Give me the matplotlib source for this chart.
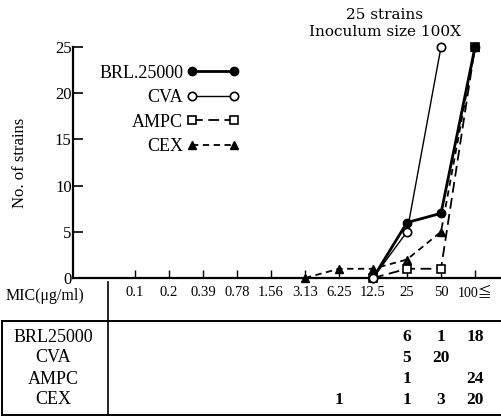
import matplotlib
matplotlib.use("Agg")
import matplotlib.pyplot as plt
from matplotlib.transforms import blended_transform_factory
from matplotlib.lines import Line2D

# ---- data ----
mic_labels = ["0.1", "0.2", "0.39", "0.78", "1.56", "3.13", "6.25", "12.5", "25", "50", "100≦"]

# cumulative number of strains as plotted
brl_x = ["12.5", "25", "50", "100≦"]
brl_y = [0, 6, 7, 25]
cva_x = ["12.5", "25", "50"]
cva_y = [0, 5, 25]
ampc_x = ["12.5", "25", "50", "100≦"]
ampc_y = [0, 1, 1, 25]
cex_x = ["3.13", "6.25", "12.5", "25", "50", "100≦"]
cex_y = [0, 1, 1, 2, 5, 25]

# table of counts per MIC
table_names = ["BRL25000", "CVA", "AMPC", "CEX"]
table_counts = [
    {"25": 6, "50": 1, "100≦": 18},
    {"25": 5, "50": 20},
    {"25": 1, "100≦": 24},
    {"6.25": 1, "25": 1, "50": 3, "100≦": 20},
]

yticks = [0, 5, 10, 15, 20, 25]

# ---- figure ----
W, H = 501, 417
fig = plt.figure(figsize=(W / 100, H / 100), dpi=100)
serif = ["Liberation Serif", "DejaVu Serif", "Noto Sans CJK JP"]
plt.rcParams["font.family"] = serif

ax_left, ax_right = 73, 501
ax_top, ax_bottom = 47, 278
ax = fig.add_axes([ax_left / W, 1 - ax_bottom / H, (ax_right - ax_left) / W, (ax_bottom - ax_top) / H])

pos = {lab: i for i, lab in enumerate(mic_labels)}
# tick i sits at pixel 135 + 34*i
x0 = (ax_left - 135) / 34
x1 = (ax_right - 135) / 34
ax.set_xlim(x0, x1)
ax.set_ylim(0, 25)

def xs(labels):
    return [pos[l] for l in labels]

ax.plot(xs(brl_x), brl_y, "-", color="black", lw=2.0, marker="o", ms=6,
        mfc="black", mec="black", clip_on=False, zorder=5, label="BRL.25000")
ax.plot(xs(cva_x), cva_y, "-", color="black", lw=1.0, marker="o", ms=6,
        mfc="white", mec="black", mew=1.2, clip_on=False, zorder=6, label="CVA")
ax.plot(xs(ampc_x), ampc_y, color="black", lw=1.3, ls=(0, (6, 3)), marker="s", ms=6,
        mfc="white", mec="black", mew=1.2, clip_on=False, zorder=4, label="AMPC")
ax.plot(xs(cex_x), cex_y, color="black", lw=1.3, ls=(0, (3.5, 2.5)), marker="^", ms=6,
        mfc="black", mec="black", clip_on=False, zorder=4, label="CEX")

for s in ["top", "right"]:
    ax.spines[s].set_visible(False)
for s in ["left", "bottom"]:
    ax.spines[s].set_linewidth(1.6)

ax.set_yticks(yticks)
ax.set_yticklabels([str(v) for v in yticks], fontsize=12)
ax.tick_params(axis="y", direction="in", length=7, width=1.2, pad=1)
ax.set_xticks(range(len(mic_labels)))
ax.set_xticklabels(mic_labels, fontsize=10.5)
for t in ax.get_xticklabels():
    if "≦" in t.get_text():
        t.set_fontsize(10)
ax.tick_params(axis="x", direction="in", length=6, width=1.0, pad=6)

ax.set_ylabel("No. of strains", fontsize=12, labelpad=19)

leg = ax.legend(loc="upper left", bbox_to_anchor=((92 - ax_left) / (ax_right - ax_left), 0.955),
                frameon=False, markerfirst=False, numpoints=2, handlelength=2.9,
                fontsize=13, labelspacing=0.42, handletextpad=0.2, borderaxespad=0)
for t in leg.get_texts():
    t.set_ha("right")
leg._legend_box.align = "right"

fig.text(385 / W, 1 - 15 / H, "25 strains", ha="center", va="center",
         fontsize=11, family=["DejaVu Serif"])
fig.text(385 / W, 1 - 32 / H, "Inoculum size 100X", ha="center", va="center",
         fontsize=11, family=["DejaVu Serif"])

fig.text(6 / W, 1 - 296 / H, "MIC(μg/ml)", ha="left", va="center", fontsize=11.5)

# ---- table ----
def fy(p):
    return 1 - p / H

fig.add_artist(Line2D([2 / W, 1], [fy(321), fy(321)], color="black", lw=1.4))
fig.add_artist(Line2D([2 / W, 1], [fy(415), fy(415)], color="black", lw=1.4))
fig.add_artist(Line2D([2 / W, 2 / W], [fy(321), fy(415)], color="black", lw=1.4))
fig.add_artist(Line2D([108 / W, 108 / W], [fy(282), fy(415)], color="black", lw=1.2))

row_y = [337, 358, 379, 400]
trans = blended_transform_factory(ax.transData, fig.transFigure)
for name, counts, ry in zip(table_names, table_counts, row_y):
    fig.text(53 / W, fy(ry), name, ha="center", va="center", fontsize=13)
    for lab, v in counts.items():
        ax.text(pos[lab], fy(ry), str(v), transform=trans, ha="center", va="center",
                fontsize=12.5, fontweight="bold", clip_on=False)

fig.savefig("out.png", dpi=100)
